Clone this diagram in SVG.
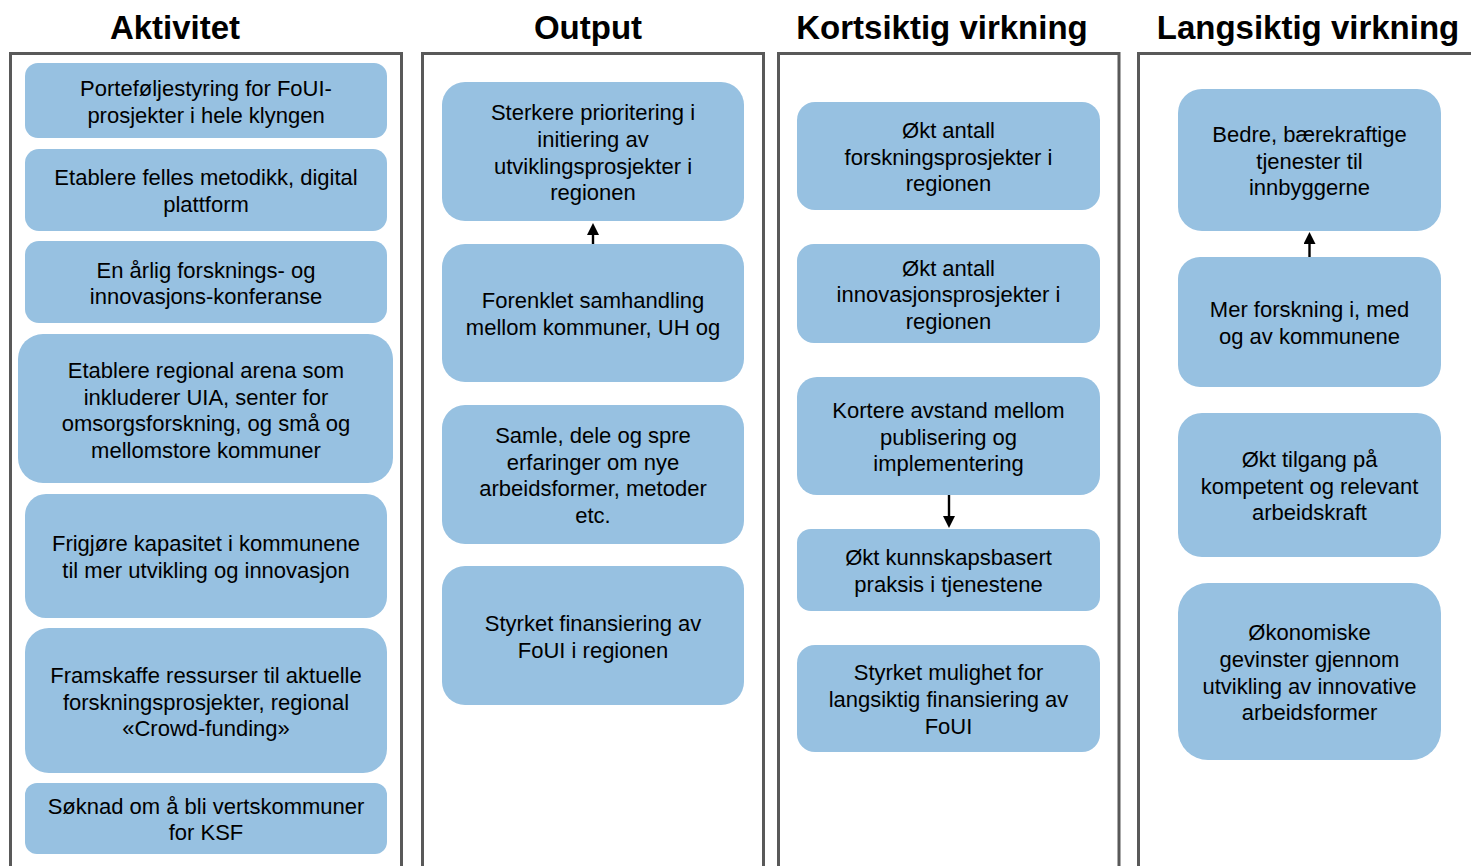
<svg xmlns="http://www.w3.org/2000/svg" width="1471" height="866" viewBox="0 0 1471 866">
<style>
.frame{fill:none;stroke:#595959;stroke-width:3}
.hdr{font-family:"Liberation Sans",Arial,sans-serif;font-size:33px;font-weight:bold;fill:#000;text-anchor:middle}
.box{fill:#97C1E1}
.t{font-family:"Liberation Sans",Arial,sans-serif;font-size:22px;fill:#000;text-anchor:middle}
.conn{stroke:#000;stroke-width:2.4;fill:none;marker-end:url(#ah)}
</style>
<defs>
<marker id="ah" markerUnits="userSpaceOnUse" markerWidth="13" markerHeight="13" refX="1" refY="6" orient="auto">
<path d="M0,0 L12,6 L0,12 z" fill="#000"/>
</marker>
</defs>
<rect width="1471" height="866" fill="#fff"/>
<g id="headers">
<text class="hdr" x="175" y="39">Aktivitet</text>
<text class="hdr" x="588" y="39">Output</text>
<text class="hdr" x="942" y="39">Kortsiktig virkning</text>
<text class="hdr" x="1308" y="39">Langsiktig virkning</text>
</g>
<g id="frames">
<path class="frame" d="M10.5,870 V53.5 H401.5 V870"/>
<path class="frame" d="M422.5,870 V53.5 H763.5 V870"/>
<path class="frame" d="M778.5,870 V53.5 H1119 V870"/>
<path class="frame" d="M1138.5,870 V53.5 H1475"/>
</g>
<g id="a1"><rect class="box" x="25" y="63" width="362" height="75" rx="13"/>
<text class="t" x="206" y="96">Porteføljestyring for FoUI-</text><text class="t" x="206" y="123">prosjekter i hele klyngen</text></g>
<g id="a2"><rect class="box" x="25" y="149" width="362" height="82" rx="14"/>
<text class="t" x="206" y="185">Etablere felles metodikk, digital</text><text class="t" x="206" y="212">plattform</text></g>
<g id="a3"><rect class="box" x="25" y="241" width="362" height="82" rx="14"/>
<text class="t" x="206" y="278">En årlig forsknings- og</text><text class="t" x="206" y="304">innovasjons-konferanse</text></g>
<g id="a4"><rect class="box" x="18" y="334" width="375" height="149" rx="25"/>
<text class="t" x="206" y="378">Etablere regional arena som</text><text class="t" x="206" y="405">inkluderer UIA, senter for</text><text class="t" x="206" y="431">omsorgsforskning, og små og</text><text class="t" x="206" y="458">mellomstore kommuner</text></g>
<g id="a5"><rect class="box" x="25" y="494" width="362" height="124" rx="21"/>
<text class="t" x="206" y="551">Frigjøre kapasitet i kommunene</text><text class="t" x="206" y="578">til mer utvikling og innovasjon</text></g>
<g id="a6"><rect class="box" x="25" y="628" width="362" height="145" rx="24"/>
<text class="t" x="206" y="683">Framskaffe ressurser til aktuelle</text><text class="t" x="206" y="710">forskningsprosjekter, regional</text><text class="t" x="206" y="736">«Crowd-funding»</text></g>
<g id="a7"><rect class="box" x="25" y="783" width="362" height="71" rx="12"/>
<text class="t" x="206" y="814">Søknad om å bli vertskommuner</text><text class="t" x="206" y="840">for KSF</text></g>

<g id="o1"><rect class="box" x="442" y="82" width="302" height="139" rx="23"/>
<text class="t" x="593" y="120">Sterkere prioritering i</text><text class="t" x="593" y="147">initiering av</text><text class="t" x="593" y="174">utviklingsprosjekter i</text><text class="t" x="593" y="200">regionen</text></g>
<g id="o2"><rect class="box" x="442" y="244" width="302" height="138" rx="23"/>
<text class="t" x="593" y="308">Forenklet samhandling</text><text class="t" x="593" y="335">mellom kommuner, UH og</text></g>
<g id="o3"><rect class="box" x="442" y="405" width="302" height="139" rx="23"/>
<text class="t" x="593" y="443">Samle, dele og spre</text><text class="t" x="593" y="470">erfaringer om nye</text><text class="t" x="593" y="496">arbeidsformer, metoder</text><text class="t" x="593" y="523">etc.</text></g>
<g id="o4"><rect class="box" x="442" y="566" width="302" height="139" rx="23"/>
<text class="t" x="593" y="631">Styrket finansiering av</text><text class="t" x="593" y="658">FoUI i regionen</text></g>

<g id="k1"><rect class="box" x="797" y="102" width="303" height="108" rx="18"/>
<text class="t" x="948.5" y="138">Økt antall</text><text class="t" x="948.5" y="165">forskningsprosjekter i</text><text class="t" x="948.5" y="191">regionen</text></g>
<g id="k2"><rect class="box" x="797" y="244" width="303" height="99" rx="17"/>
<text class="t" x="948.5" y="276">Økt antall</text><text class="t" x="948.5" y="302">innovasjonsprosjekter i</text><text class="t" x="948.5" y="329">regionen</text></g>
<g id="k3"><rect class="box" x="797" y="377" width="303" height="118" rx="20"/>
<text class="t" x="948.5" y="418">Kortere avstand mellom</text><text class="t" x="948.5" y="445">publisering og</text><text class="t" x="948.5" y="471">implementering</text></g>
<g id="k4"><rect class="box" x="797" y="529" width="303" height="82" rx="14"/>
<text class="t" x="948.5" y="565">Økt kunnskapsbasert</text><text class="t" x="948.5" y="592">praksis i tjenestene</text></g>
<g id="k5"><rect class="box" x="797" y="645" width="303" height="107" rx="18"/>
<text class="t" x="948.5" y="680">Styrket mulighet for</text><text class="t" x="948.5" y="707">langsiktig finansiering av</text><text class="t" x="948.5" y="734">FoUI</text></g>

<g id="l1"><rect class="box" x="1178" y="89" width="263" height="142" rx="24"/>
<text class="t" x="1309.5" y="142">Bedre, bærekraftige</text><text class="t" x="1309.5" y="169">tjenester til</text><text class="t" x="1309.5" y="195">innbyggerne</text></g>
<g id="l2"><rect class="box" x="1178" y="257" width="263" height="130" rx="22"/>
<text class="t" x="1309.5" y="317">Mer forskning i, med</text><text class="t" x="1309.5" y="344">og av kommunene</text></g>
<g id="l3"><rect class="box" x="1178" y="413" width="263" height="144" rx="24"/>
<text class="t" x="1309.5" y="467">Økt tilgang på</text><text class="t" x="1309.5" y="494">kompetent og relevant</text><text class="t" x="1309.5" y="520">arbeidskraft</text></g>
<g id="l4"><rect class="box" x="1178" y="583" width="263" height="177" rx="30"/>
<text class="t" x="1309.5" y="640">Økonomiske</text><text class="t" x="1309.5" y="667">gevinster gjennom</text><text class="t" x="1309.5" y="694">utvikling av innovative</text><text class="t" x="1309.5" y="720">arbeidsformer</text></g>

<g id="connectors">
<line class="conn" x1="593" y1="244" x2="593" y2="234"/>
<line class="conn" x1="949" y1="495" x2="949" y2="517"/>
<line class="conn" x1="1309.5" y1="257" x2="1309.5" y2="243"/>
</g>
</svg>
